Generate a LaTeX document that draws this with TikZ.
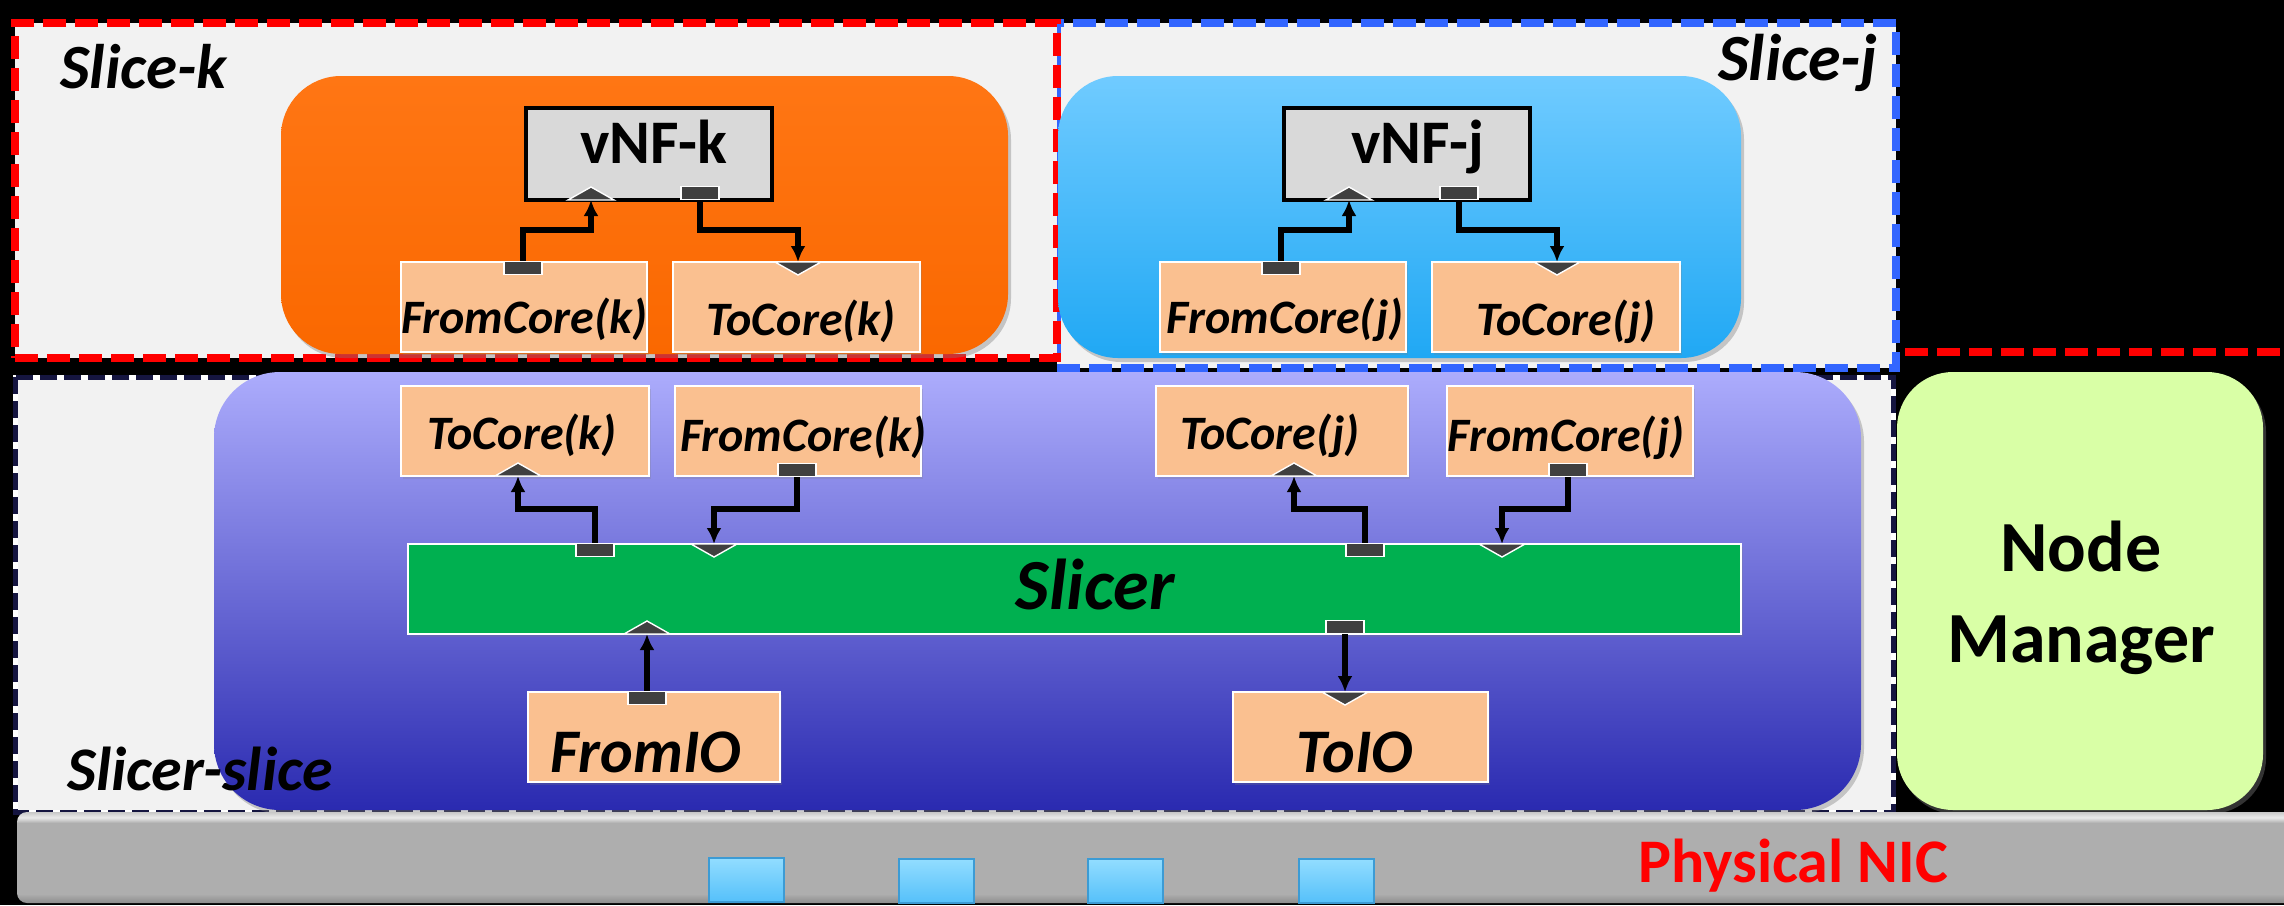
\documentclass[tikz,border=0pt]{standalone}
\usepackage{fontspec}
\setmainfont{Carlito}
\usetikzlibrary{calc,arrows.meta,shadows}

\definecolor{slicebg}{HTML}{F2F2F2}
\definecolor{sliceblue}{HTML}{3366FF}
\definecolor{navydash}{HTML}{151540}
\definecolor{orangeT}{HTML}{FF7614}
\definecolor{orangeB}{HTML}{FA6800}
\definecolor{blueT}{HTML}{70CBFF}
\definecolor{blueB}{HTML}{20A8F4}
\definecolor{purpT}{HTML}{ACACFC}
\definecolor{purpM}{HTML}{8282DA}
\definecolor{purpB}{HTML}{2A2AB0}
\definecolor{mgrgreen}{HTML}{D9FFA6}
\definecolor{peach}{HTML}{FAC090}
\definecolor{slicergreen}{HTML}{00B050}
\definecolor{vnfgray}{HTML}{D9D9D9}
\definecolor{portgray}{HTML}{404040}
\definecolor{nicdark}{HTML}{8C8C8C}
\definecolor{nicgray}{HTML}{AEAEAE}
\definecolor{nichi}{HTML}{EAEAEA}
\definecolor{nicrim}{HTML}{C8C8C8}
\definecolor{qtop}{HTML}{92DDFF}
\definecolor{qbot}{HTML}{55C0FA}
\definecolor{qedge}{HTML}{3C9BD4}

% grey NIC bar: dark lower rim, flat body, bright upper rim
\pgfdeclareverticalshading{nicshade}{100bp}{%
  color(0bp)=(nicdark); color(25bp)=(nicdark); color(30bp)=(nicgray);
  color(69bp)=(nicgray); color(72bp)=(nichi); color(75bp)=(nicrim); color(100bp)=(nicrim)}

\tikzset{
  upport/.pic={\filldraw[triport] (-23,0) -- (0,-13) -- (23,0) -- cycle;},
  downport/.pic={\filldraw[triport] (-23,0) -- (0,13) -- (23,0) -- cycle;}
}

\begin{document}
\begin{tikzpicture}[x=0.5pt,y=-0.5pt,
  box/.style={inner sep=0pt, outer sep=0pt, anchor=north west},
  slicebox/.style={box, fill=slicebg, line width=4pt, dash pattern=on 11.5pt off 4.5pt},
  corebox/.style={box, rounded corners=30pt,
    drop shadow={shadow xshift=1.5pt, shadow yshift=-2pt, opacity=.4}},
  elem/.style={box, fill=peach, draw=white, line width=1pt,
    drop shadow={shadow xshift=1pt, shadow yshift=-1.5pt, opacity=.25}},
  vnfbox/.style={box, fill=vnfgray, draw=black, line width=1.6pt,
    minimum width=123pt, minimum height=46pt},
  sqport/.style={draw=white, line width=0.7pt, fill=portgray, inner sep=0pt,
    minimum width=19pt, minimum height=6.5pt},
  triport/.style={draw=white, line width=0.7pt, fill=portgray, line join=miter},
  flow/.style={line width=2.6pt, line join=miter,
    -{Latex[length=8pt,width=7.5pt]}},
  lbl/.style={inner sep=0pt, anchor=base, font=\fontsize{24}{28}\selectfont\bfseries\itshape},
  iolbl/.style={inner sep=0pt, anchor=base, font=\fontsize{31}{36}\selectfont\bfseries\itshape},
  nicport/.style={box, minimum width=37.5pt, minimum height=22pt,
    top color=qtop, bottom color=qbot, draw=qedge, line width=0.6pt}
]
\useasboundingbox (0,0) rectangle (2284,905);
\fill[black] (0,0) rectangle (2284,905);

% ---------- slice frames ----------
\node[slicebox, draw=sliceblue, minimum width=419.5pt, minimum height=172.5pt] (slicej) at (1057,23) {};
\node[slicebox, draw=red, minimum width=521pt, minimum height=167.5pt] (slicek) at (15,23) {};
\coordinate (mgrline) at (1905,352);
\coordinate (mgrlineend) at (2284,352);
\draw[red, line width=4pt, dash pattern=on 11.5pt off 4.5pt] (mgrline) -- (mgrlineend);
\node[box, fill=slicebg, draw=white, line width=2.5pt, minimum width=939pt, minimum height=217.5pt] (slicers) at (15,377) {};
\draw[navydash, line width=2.5pt, dash pattern=on 8.5pt off 3.5pt] (slicers.north west) rectangle (slicers.south east);

% ---------- core containers ----------
\node[corebox, top color=orangeT, bottom color=orangeB, minimum width=363.5pt, minimum height=139pt] (corek) at (281,76) {};
\node[corebox, top color=blueT, bottom color=blueB, minimum width=341.5pt, minimum height=141pt] (corej) at (1058,76) {};
\node[corebox, rounded corners=33pt, top color=purpT, middle color=purpM, bottom color=purpB,
  minimum width=823.5pt, minimum height=219pt] (slicerbox) at (214,372) {};
\node[corebox, rounded corners=28pt, fill=mgrgreen, minimum width=183pt, minimum height=219pt] (mgr) at (1897,372) {};

% ---------- NIC ----------
\node[box, shade, shading=nicshade, rounded corners=5pt, minimum width=1145pt, minimum height=45.5pt] (nic) at (17,812) {};
\node[nicport] (nicq1) at (709,858) {};
\node[nicport] (nicq2) at (899,859) {};
\node[nicport] (nicq3) at (1088,859) {};
\node[nicport] (nicq4) at (1299,859) {};
\node[inner sep=0pt, anchor=base, text=red, font=\fontsize{31}{36}\selectfont\bfseries] (nictxt) at (1793,882) {Physical NIC};

% ---------- titles ----------
\node[inner sep=0pt, anchor=base west, font=\fontsize{31.5}{34}\selectfont\bfseries\itshape] (tk) at (60,88) {Slice-k};
\node[inner sep=0pt, anchor=base east, font=\fontsize{33}{36}\selectfont\bfseries\itshape] (tj) at (1878,80) {Slice-j};
\node[inner sep=0pt, anchor=base west, font=\fontsize{31}{34}\selectfont\bfseries\itshape] (ts) at (67,790) {Slicer-slice};
\node[inner sep=0pt, align=center, font=\fontsize{36}{45.5}\selectfont\bfseries] (mgrtxt) at (2081,598) {Node\\Manager};

% ---------- slice k ----------
\node[vnfbox] (vnfk) at (526,108) {};
\node[inner sep=0pt, anchor=base, font=\fontsize{31}{34}\selectfont\bfseries] at (654,163) {vNF-k};
\node[elem, minimum width=123pt, minimum height=45pt] (lfk) at (401,262) {};
\node[elem, minimum width=123.5pt, minimum height=45pt] (ltk) at (673,262) {};
\node[lbl] at (524,333) {FromCore(k)};
\node[lbl] at (801,335) {ToCore(k)};
\coordinate (vkin) at (591,200);
\node[sqport] (vkout) at (700,193) {};
\node[sqport] (fkout) at (523,268) {};
\coordinate (tkin) at (798,262);
\coordinate (bendk) at (0,230);
\draw[flow] (fkout.north) |- (vkin |- bendk) -- (vkin);
\draw[flow] (vkout.south) |- (tkin |- bendk) -- (tkin);
\pic at (vkin) {upport};
\pic at (tkin) {downport};

% ---------- slice j ----------
\node[vnfbox] (vnfj) at (1284,108) {};
\node[inner sep=0pt, anchor=base, font=\fontsize{31}{34}\selectfont\bfseries] at (1418,163) {vNF-j};
\node[elem, minimum width=123pt, minimum height=45pt] (lfj) at (1160,262) {};
\node[elem, minimum width=124pt, minimum height=45pt] (ltj) at (1432,262) {};
\node[lbl] at (1285,333) {FromCore(j)};
\node[lbl] at (1566,335) {ToCore(j)};
\coordinate (vjin) at (1349,200);
\node[sqport] (vjout) at (1459,193) {};
\node[sqport] (fjout) at (1281,268) {};
\coordinate (tjin) at (1557,262);
\coordinate (bendj) at (0,230);
\draw[flow] (fjout.north) |- (vjin |- bendj) -- (vjin);
\draw[flow] (vjout.south) |- (tjin |- bendj) -- (tjin);
\pic at (vjin) {upport};
\pic at (tjin) {downport};

% ---------- slicer slice ----------
\node[elem, minimum width=124pt, minimum height=45pt] (utk) at (401,386) {};
\node[elem, minimum width=123pt, minimum height=45pt] (ufk) at (675,386) {};
\node[elem, minimum width=126pt, minimum height=45pt] (utj) at (1156,386) {};
\node[elem, minimum width=123pt, minimum height=45pt] (ufj) at (1447,386) {};
\node[lbl] at (522,449) {ToCore(k)};
\node[lbl] at (803,451) {FromCore(k)};
\node[lbl] at (1270,449) {ToCore(j)};
\node[lbl] at (1566,451) {FromCore(j)};

\node[box, fill=slicergreen, draw=white, line width=1pt, minimum width=666.5pt, minimum height=45pt,
  drop shadow={shadow xshift=1pt, shadow yshift=-1.5pt, opacity=.25}] (slicer) at (408,544) {};
\node[inner sep=0pt, anchor=base, font=\fontsize{36}{40}\selectfont\bfseries\itshape] at (1095,609) {Slicer};

\node[elem, minimum width=126pt, minimum height=45pt] (fromio) at (528,692) {};
\node[elem, minimum width=127.5pt, minimum height=45pt] (toio) at (1233,692) {};
\node[iolbl] at (646,772) {FromIO};
\node[iolbl] at (1355,772) {ToIO};

% ports
\coordinate (utkin) at (518,476);
\node[sqport] (ufkout) at (797,470) {};
\node[sqport] (skout) at (595,550) {};
\coordinate (skin) at (714,544);
\coordinate (utjin) at (1294,476);
\node[sqport] (ufjout) at (1568,470) {};
\node[sqport] (sjout) at (1365,550) {};
\coordinate (sjin) at (1502,544);
\coordinate (sioin) at (647,634);
\node[sqport] (fioout) at (647,698) {};
\node[sqport] (sioout) at (1345,627) {};
\coordinate (tioin) at (1345,692);
\coordinate (bends) at (0,509);

\draw[flow] (skout.north) |- (utkin |- bends) -- (utkin);
\draw[flow] (ufkout.south) |- (skin |- bends) -- (skin);
\draw[flow] (sjout.north) |- (utjin |- bends) -- (utjin);
\draw[flow] (ufjout.south) |- (sjin |- bends) -- (sjin);
\draw[flow] (fioout.north) -- (sioin);
\draw[flow] (sioout.south) -- (tioin);
\pic at (utkin) {upport};
\pic at (skin) {downport};
\pic at (utjin) {upport};
\pic at (sjin) {downport};
\pic at (sioin) {upport};
\pic at (tioin) {downport};
\end{tikzpicture}
\end{document}
